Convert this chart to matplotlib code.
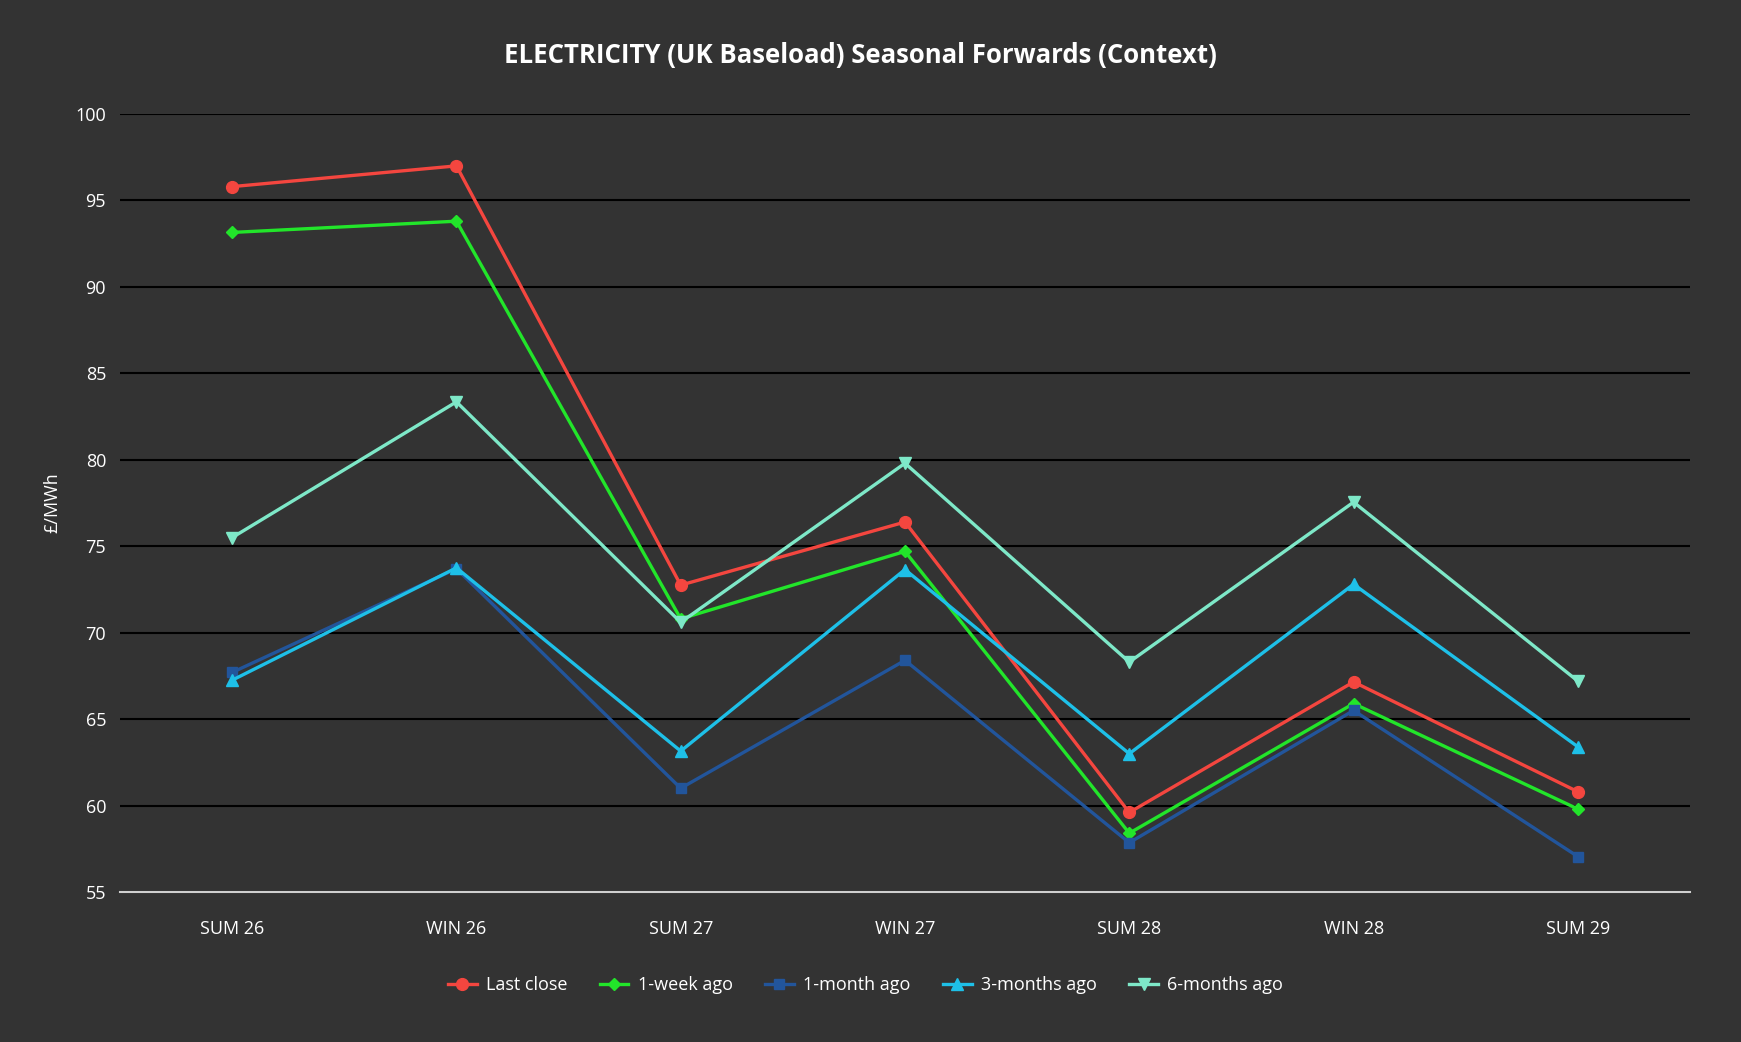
import matplotlib.pyplot as plt
import numpy as np

plt.rcParams["font.family"] = ["Open Sans", "DejaVu Sans"]

contracts = ["SUM 26", "WIN 26", "SUM 27", "WIN 27", "SUM 28", "WIN 28", "SUM 29"]
last_close = [95.8, 97.0, 72.75, 76.4, 59.6, 67.15, 60.8]
week_ago = [93.15, 93.8, 70.8, 74.7, 58.4, 65.9, 59.8]
month_ago = [67.7, 73.7, 61.0, 68.4, 57.85, 65.5, 57.05]
three_months_ago = [67.25, 73.75, 63.15, 73.65, 63.0, 72.8, 63.4]
six_months_ago = [75.5, 83.35, 70.6, 79.8, 68.3, 77.55, 67.2]

series = [
    ("Last close", last_close, "#f4463f", "o", 8.5),
    ("1-week ago", week_ago, "#22e52a", "D", 6),
    ("1-month ago", month_ago, "#22559b", "s", 7.5),
    ("3-months ago", three_months_ago, "#1ec0e8", "^", 8),
    ("6-months ago", six_months_ago, "#7ee8c8", "v", 8),
]

bg = "#333333"
fig = plt.figure(figsize=(17.41, 10.42), dpi=100, facecolor=bg)
ax = fig.add_axes([120 / 1741, 1 - 892 / 1042, 1570 / 1741, 778 / 1042])
ax.set_facecolor(bg)

x = np.arange(len(contracts))
for name, vals, color, marker, ms in series:
    ax.plot(x, vals, color=color, lw=2.4, marker=marker, markersize=ms,
            label=name, zorder=3)

ax.set_xlim(-0.5, len(contracts) - 0.5)
ax.set_ylim(55, 100)
ax.set_yticks(range(55, 101, 5))
ax.set_xticks(x)
ax.set_xticklabels(contracts)
ax.grid(axis="y", color="black", lw=1.5, zorder=1)
ax.set_axisbelow(True)

for s in ["top", "right", "left"]:
    ax.spines[s].set_visible(False)
ax.spines["bottom"].set_color("#d0d0d0")
ax.spines["bottom"].set_linewidth(1.5)
ax.tick_params(colors="white", labelsize=13, length=0, pad=10)
ax.tick_params(axis="x", pad=20)

ax.set_ylabel("£/MWh", color="white", fontsize=13, labelpad=10)
fig.text(0.494, 1 - 56 / 1042, "ELECTRICITY (UK Baseload) Seasonal Forwards (Context)",
         color="white", fontsize=18.5, fontweight="bold", ha="center", va="center")

leg = fig.legend(loc="center", bbox_to_anchor=(0.497, 1 - 985 / 1042), ncol=5,
                 frameon=False, fontsize=13, handlelength=1.6, columnspacing=1.8,
                 handletextpad=0.5)
for t in leg.get_texts():
    t.set_color("white")

plt.savefig("out.png", facecolor=bg)
